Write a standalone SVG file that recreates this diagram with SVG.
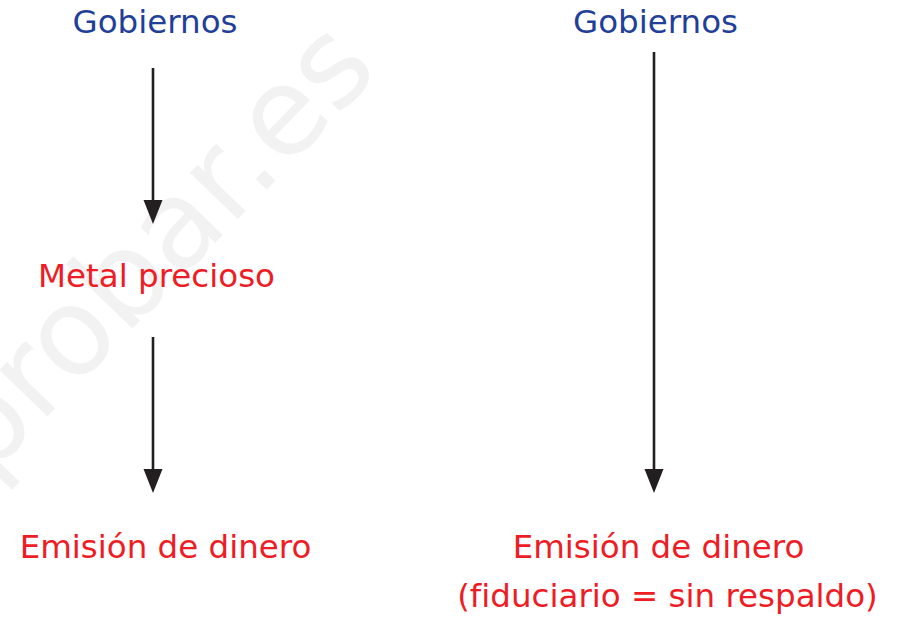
<svg xmlns="http://www.w3.org/2000/svg" width="899" height="618" viewBox="0 0 899 618">
<defs>
<style>
.t{font-family:"DejaVu Sans","Liberation Sans",sans-serif;font-size:32.5px;text-anchor:middle;font-variant-ligatures:none}
.blue{fill:#1f3f99}
.red{fill:#ee1c25}
.line{stroke:#231f20;stroke-width:2.6;fill:none}
.head{fill:#231f20}
.wm{font-family:"DejaVu Sans","Liberation Sans",sans-serif;font-size:122px;fill:#f2f2f2}
</style>
</defs>
<rect width="899" height="618" fill="#ffffff"/>
<text class="wm" transform="translate(-14,480) rotate(-46)">probar.es</text>
<g id="n-gob-left"><text class="t blue" x="155" y="33">Gobiernos</text></g>
<g id="n-metal"><text class="t red" x="156.5" y="287">Metal precioso</text></g>
<g id="n-emision-left"><text class="t red" x="165.5" y="558">Emisión de dinero</text></g>
<g id="n-gob-right"><text class="t blue" x="655.5" y="33">Gobiernos</text></g>
<g id="n-emision-right"><text class="t red" x="658.5" y="558">Emisión de dinero</text><text class="t red" x="667.5" y="607">(fiduciario = sin respaldo)</text></g>
<g id="connectors">
<line class="line" x1="153" y1="68" x2="153" y2="202"/>
<polygon class="head" points="143.5,200 162.5,200 153,224"/>
<line class="line" x1="153" y1="337" x2="153" y2="471"/>
<polygon class="head" points="143.5,469 162.5,469 153,493"/>
<line class="line" x1="654" y1="52" x2="654" y2="471"/>
<polygon class="head" points="644.5,469 663.5,469 654,493"/>
</g>
</svg>
